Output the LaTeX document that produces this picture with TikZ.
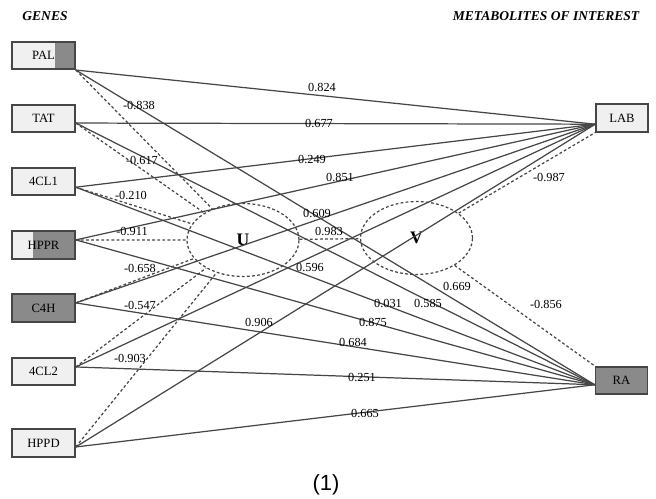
\documentclass[tikz,border=0pt]{standalone}
\usepackage{fontspec}
\setmainfont{Liberation Serif}
\newfontfamily\capfont{Liberation Sans}
\usetikzlibrary{shapes.geometric}

\definecolor{boxline}{RGB}{70,70,70}
\definecolor{boxfill}{RGB}{240,240,240}
\definecolor{boxdark}{RGB}{138,138,138}
\definecolor{wire}{RGB}{70,70,70}

\tikzset{
  gene/.style={draw=boxline, line width=0.9pt, fill=boxfill, minimum width=1.26cm, minimum height=0.55cm, inner sep=0pt, font=\fontsize{7.2}{8}\selectfont},
  metab/.style={gene, minimum width=1.04cm},
  part/.style={path picture={\fill[boxdark] ([xshift=-#1]path picture bounding box.north east) rectangle (path picture bounding box.south east);}, postaction={draw=boxline, line width=0.9pt}},
  dotline/.style={dash pattern=on 1.6pt off 1.3pt, line width=0.7pt},
  latent/.style={ellipse, draw=wire, dotline, minimum width=2.24cm, minimum height=1.46cm, inner sep=0pt, font=\bfseries\fontsize{10}{12}\selectfont},
  wght/.style={font=\fontsize{7}{8}\selectfont, inner sep=0pt},
  head/.style={font=\bfseries\itshape\fontsize{7.7}{9}\selectfont}
}

\begin{document}
\begin{tikzpicture}[x=0.02cm, y=-0.02cm]
    \useasboundingbox (0,0) rectangle (656,498);
    \node[head] (genes) at (45,16) {GENES};
    \node[head] (metabs) at (546,16) {METABOLITES OF INTEREST};
    \node[gene, part=0.4cm] (pal) at (43.5,55.5) {PAL};
    \node[gene] (tat) at (43.5,118.5) {TAT};
    \node[gene] (cl1) at (43.5,181.5) {4CL1};
    \node[gene, part=0.84cm] (hppr) at (43.5,245) {HPPR};
    \node[gene, fill=boxdark] (c4h) at (43.5,308) {C4H};
    \node[gene] (cl2) at (43.5,371.5) {4CL2};
    \node[gene] (hppd) at (43.5,443) {HPPD};
    \node[metab] (lab) at (622,118) {LAB};
    \node[metab, fill=boxdark] (ra) at (621.5,380.5) {RA};
    \node[latent] (u) at (243,240) {U};
    \node[latent] (v) at (416.5,238) {V};
    \foreach \g/\a in {pal/south east, tat/-8, cl1/-10, hppr/9, c4h/9, cl2/8, hppd/-7}{
      \draw[wire, line width=0.7pt] (\g.\a) -- (lab.193);
      \draw[wire, line width=0.7pt] (\g.\a) -- (ra.189);
      \draw[wire, dotline] (\g.\a) -- (u);
    }
    \draw[wire, dotline] (u) -- (v);
    \draw[wire, dotline] (v) -- (lab.south west);
    \draw[wire, dotline] (v) -- (ra.north west);
    \foreach \x/\y/\w [count=\i] in {322/87/0.824, 319/123/0.677, 312/159/0.249, 340/177/0.851,
        317/213/0.609, 329/231/0.983, 310/267/0.596, 259/322/0.906,
        457/286/0.669, 428/303/0.585, 388/303/0.031, 373/322/0.875,
        353/342/0.684, 362/377/0.251, 365/413/0.665,
        139/105/-0.838, 142/160/-0.617, 131/195/-0.210, 132/231/-0.911,
        140/268/-0.658, 140/305/-0.547, 130/358/-0.903,
        549/177/-0.987, 546/304/-0.856}
      \node[wght] (w\i) at (\x,\y) {\w};
    \node[font=\capfont\fontsize{12.5}{14}\selectfont] (cap) at (326,485) {(1)};
\end{tikzpicture}
\end{document}
